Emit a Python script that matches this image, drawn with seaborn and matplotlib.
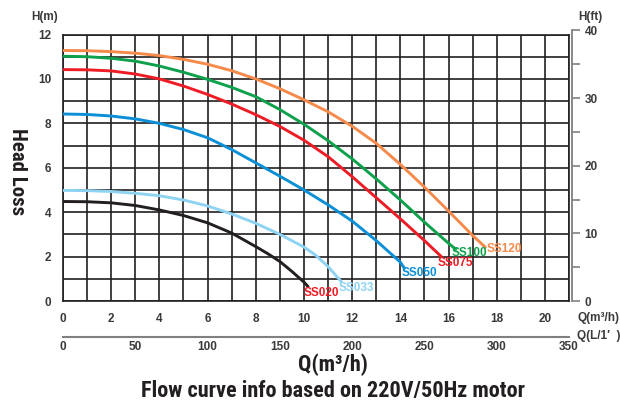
import numpy as np
import pandas as pd
import matplotlib
matplotlib.use("Agg")
import matplotlib.pyplot as plt
import seaborn as sns

# Pump curves: flow Q (m3/h) vs head H (m)
models = ["SS020", "SS033", "SS050", "SS075", "SS100", "SS120"]

q_ss020 = [0, 1, 2, 3, 4, 5, 6, 7, 8, 8.5, 9, 9.5, 10, 10.17]
h_ss020 = [4.48, 4.47, 4.42, 4.30, 4.10, 3.85, 3.52, 3.06, 2.45, 2.13, 1.78, 1.33, 0.85, 0.65]

q_ss033 = [0, 1, 2, 3, 4, 5, 6, 7, 8, 9, 10, 10.5, 11, 11.55]
h_ss033 = [4.98, 4.97, 4.93, 4.85, 4.74, 4.55, 4.28, 3.92, 3.50, 3.00, 2.43, 2.05, 1.55, 0.87]

q_ss050 = [0, 1, 2, 3, 4, 5, 6, 7, 8, 9, 10, 11, 12, 13, 14, 14.17]
h_ss050 = [8.42, 8.40, 8.33, 8.20, 8.00, 7.72, 7.35, 6.82, 6.22, 5.62, 5.00, 4.33, 3.60, 2.72, 1.75, 1.47]

q_ss075 = [0, 1, 2, 3, 4, 5, 6, 7, 8, 9, 10, 11, 12, 13, 14, 15, 15.7]
h_ss075 = [10.42, 10.41, 10.36, 10.22, 10.00, 9.68, 9.30, 8.87, 8.39, 7.86, 7.24, 6.50, 5.60,
           4.65, 3.70, 2.72, 2.00]

q_ss100 = [0, 1, 2, 3, 4, 5, 6, 7, 8, 9, 10, 11, 12, 13, 14, 15, 16, 16.3]
h_ss100 = [11.02, 11.00, 10.93, 10.80, 10.58, 10.30, 9.98, 9.62, 9.20, 8.62, 7.96, 7.22, 6.40,
           5.50, 4.55, 3.55, 2.60, 2.33]

q_ss120 = [0, 1, 2, 3, 4, 5, 6, 7, 8, 9, 10, 11, 12, 13, 14, 15, 16, 17, 17.53]
h_ss120 = [11.28, 11.27, 11.23, 11.16, 11.05, 10.88, 10.66, 10.37, 10.00, 9.56, 9.06, 8.52, 7.87,
           7.10, 6.15, 5.13, 4.05, 2.95, 2.42]

line_colors = ["#231f20", "#8fd3f3", "#0b8fd6", "#ee1c25", "#0ea14b", "#f58a4a"]
label_colors = ["#ee1c25", "#8fd3f3", "#0b8fd6", "#ee1c25", "#0ea14b", "#f58a4a"]
# label offset from curve end, in points
label_offsets = [(-3, -4.3), (-1.7, -4.8), (-2, -3.6), (-3, -4.8), (-2.7, -2.4), (0.7, -1.2)]

q_ticks = list(range(0, 21, 2))
h_ticks = list(range(0, 13, 2))
ft_ticks = [0, 10, 20, 30, 40]
lmin_ticks = list(range(0, 351, 50))

all_q = [q_ss020, q_ss033, q_ss050, q_ss075, q_ss100, q_ss120]
all_h = [h_ss020, h_ss033, h_ss050, h_ss075, h_ss100, h_ss120]
df = pd.concat([pd.DataFrame({"Q": q, "H": h, "model": m}) for m, q, h in zip(models, all_q, all_h)],
               ignore_index=True)

sns.set_style("white")
plt.rcParams["font.family"] = ["Liberation Sans", "DejaVu Sans"]
NARROW = ["Roboto Condensed", "Liberation Sans Narrow", "DejaVu Sans"]
TXT = "#3a3a3a"
GREY = "#808080"

W, H = 620, 401
fig = plt.figure(figsize=(6.2, 4.01), dpi=100)


def fx(x):
    return x / W


def fy(y):
    return 1 - y / H


L, R, B, T = fx(63), fx(569), fy(301), fy(34.5)
ax = fig.add_axes([L, B, R - L, T - B])

sns.lineplot(data=df, x="Q", y="H", hue="model", palette=dict(zip(models, line_colors)),
             sort=False, estimator=None, legend=False, lw=2.1, ax=ax, zorder=3)

ax.set_xlim(0, 21)
ax.set_ylim(0, 12)
ax.set_xticks(q_ticks)
ax.set_xticks(range(0, 22), minor=True)
ax.set_yticks(h_ticks)
ax.set_yticks(range(0, 13), minor=True)
ax.grid(which="both", color="#231f20", lw=1.2)
ax.set_axisbelow(True)
ax.tick_params(axis="x", which="both", length=0, pad=9, labelsize=8.5, labelcolor=TXT)
ax.tick_params(axis="y", which="major", length=7, width=1.2, color=GREY, pad=1.5,
               labelsize=8.5, labelcolor=TXT)
ax.tick_params(axis="y", which="minor", length=0)
for lab in ax.get_xticklabels() + ax.get_yticklabels():
    lab.set_fontweight("bold")
for s in ax.spines.values():
    s.set_color("#231f20")
    s.set_linewidth(1.2)
ax.set_xlabel("")
ax.set_ylabel("")

# curve labels
for m, q, h, c, off in zip(models, all_q, all_h, label_colors, label_offsets):
    ax.annotate(m, (q[-1], h[-1]), xytext=off, textcoords="offset points", ha="left", va="center",
                color=c, fontsize=8.5, fontweight="bold", zorder=4)

# right axis in feet
ft_top = 301 - 40 / 3.2808 * 22.2
axr = fig.add_axes([fx(572), B, 0.0001, fy(ft_top) - B])
axr.set_ylim(0, 40)
axr.patch.set_visible(False)
for k in ["left", "top", "bottom"]:
    axr.spines[k].set_visible(False)
axr.spines["right"].set_color(GREY)
axr.spines["right"].set_linewidth(1.3)
axr.yaxis.tick_right()
axr.set_xticks([])
axr.set_yticks(ft_ticks)
axr.set_yticks([5, 15, 25, 35], minor=True)
axr.tick_params(axis="y", which="both", direction="out", length=6, width=1.2, color=GREY, pad=3,
                labelsize=8.5, labelcolor=TXT)
for lab in axr.get_yticklabels():
    lab.set_fontweight("bold")

# bottom axis in L/min
axb = fig.add_axes([L, fy(336.7), R - L, 0.0001])
axb.set_xlim(0, 350)
axb.patch.set_visible(False)
for k in ["left", "top", "right"]:
    axb.spines[k].set_visible(False)
axb.spines["bottom"].set_color(GREY)
axb.spines["bottom"].set_linewidth(1.5)
axb.set_yticks([])
axb.set_xticks(lmin_ticks)
axb.tick_params(axis="x", direction="in", length=5.5, width=1.3, color=GREY, pad=3,
                labelsize=8.5, labelcolor=TXT)
for lab in axb.get_xticklabels():
    lab.set_fontweight("bold")

# texts
fig.text(fx(45), fy(17), "H(m)", ha="center", va="center", fontsize=8.5, fontweight="bold", color=TXT)
fig.text(fx(590), fy(17), "H(ft)", ha="center", va="center", fontsize=8.5, fontweight="bold", color=TXT)
fig.text(fx(577), fy(318), "Q(m³/h)", ha="left", va="center", fontsize=8.5, fontweight="bold", color=TXT)
fig.text(fx(577), fy(336), "Q(L/1′  )", ha="left", va="center", fontsize=8.5, fontweight="bold", color=TXT)
fig.text(fx(17), fy(172), "Head Loss", ha="center", va="center", rotation=-90, fontsize=15,
         fontweight="bold", fontstretch="condensed", family=NARROW, color="#231f20")
fig.text(fx(333), fy(364.5), "Q(m³/h)", ha="center", va="center", fontsize=16,
         fontweight="bold", fontstretch="condensed", family=NARROW, color="#231f20")
fig.text(fx(333), fy(391), "Flow curve info based on 220V/50Hz motor", ha="center", va="center",
         fontsize=16, fontweight="bold", fontstretch="condensed", family=NARROW, color="#231f20")

fig.savefig("out.png", dpi=100)
